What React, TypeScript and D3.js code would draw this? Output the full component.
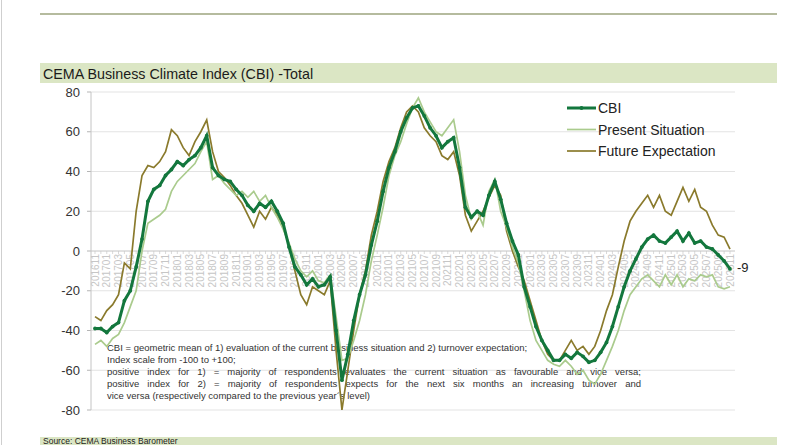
import { useEffect, useRef } from "react"
import * as d3 from "d3"

// monthly survey, Nov 2016 .. Nov 2025
const firstMonth = new Date(2016, 10, 1)
const months = d3.timeMonth.range(firstMonth, d3.timeMonth.offset(firstMonth, 109))
const monthLabels = months.map(d3.timeFormat("%Y%m"))

const cbi = [
  -39, -39, -41, -38, -36, -25, -20, -8, 6, 25, 31, 33, 38, 41, 45, 43, 46, 48, 52, 58,
  42, 38, 36, 35, 31, 28, 23, 20, 24, 22, 25, 20, 14, 2, -8, -12, -17, -14, -18, -17,
  -13, -40, -65, -52, -35, -22, -12, 3, 15, 30, 42, 50, 60, 67, 72, 73, 68, 62, 58, 52,
  55, 57, 42, 22, 17, 20, 18, 28, 35, 26, 14, 5, -2, -18, -28, -38, -45, -50, -55, -55,
  -52, -54, -51, -53, -56, -55, -51, -46, -38, -28, -18, -10, -4, 2, 6, 8, 5, 4, 7, 10,
  5, 9, 4, 5, 2, 1, -2, -5, -9,
]

const present = [
  -47, -45, -48, -44, -42, -36, -28, -20, 0, 14, 16, 18, 21, 30, 35, 38, 41, 44, 50, 55,
  36, 38, 34, 31, 28, 30, 27, 30, 25, 28, 22, 17, 11, 4, -4, -10, -13, -10, -15, -16,
  -12, -33, -55, -54, -45, -35, -22, -5, 8, 22, 38, 48, 55, 64, 72, 77, 70, 65, 60, 58,
  62, 66, 50, 28, 16, 20, 13, 30, 36, 20, 12, 2, -6, -20, -35, -45, -50, -55, -57, -58,
  -55, -58, -62, -60, -65, -67, -62, -55, -48, -40, -30, -22, -18, -14, -12, -15, -18, -12, -17, -12,
  -18, -14, -15, -12, -13, -12, -18, -19, -18,
]

const future = [
  -33, -35, -30, -27, -22, -6, -9, 20, 38, 43, 42, 45, 50, 61, 58, 52, 48, 55, 60, 66,
  50, 40, 37, 33, 28, 24, 18, 12, 20, 16, 22, 18, 12, 3, -10, -22, -27, -18, -20, -22,
  -15, -50, -80, -60, -40, -22, -10, 8, 20, 35, 45, 52, 62, 70, 73, 70, 62, 58, 55, 48,
  46, 50, 38, 18, 10, 15, 20, 27, 33, 28, 10, 0, -8, -15, -25, -35, -45, -52, -55, -55,
  -50, -45, -50, -48, -52, -48, -40, -30, -22, -8, 5, 15, 20, 24, 28, 22, 28, 20, 18, 25,
  32, 25, 31, 22, 20, 13, 8, 7, 1,
]

const yTicks = [80, 60, 40, 20, 0, -20, -40, -60, -80]

const seriesNames = ["CBI", "Present Situation", "Future Expectation"]
const seriesColors = ["#13773d", "#aacb8d", "#8a7a2c"]

const title = "CEMA Business Climate Index (CBI) -Total"
const source = "Source: CEMA Business Barometer"
const noteLines = [
  "CBI = geometric mean of 1) evaluation of the current business situation and 2) turnover expectation;",
  "Index scale from -100 to +100;",
  "positive index for 1) = majority of respondents evaluates the current situation as favourable and vice versa;",
  "positive index for 2) = majority of respondents expects for the next six months an increasing turnover and",
  "vice versa (respectively compared to the previous year\u00b4s level)",
]

const W = 800
const H = 445
const font = "'Liberation Sans', Arial, sans-serif"

export default function App() {
  const svgRef = useRef<SVGSVGElement>(null)

  const x = d3.scalePoint<string>().domain(monthLabels).range([95, 730])
  const y = d3.scaleLinear().domain([-80, 80]).range([410, 92])
  const y0 = y(0)

  const line = d3
    .line<number>()
    .x((_, i) => x(monthLabels[i]) as number)
    .y((d) => y(d))

  // justify the two long note lines by widening word gaps
  useEffect(() => {
    d3.select(svgRef.current)
      .selectAll<SVGTextElement, unknown>("text.just")
      .each(function () {
        const el = this
        el.style.wordSpacing = "0px"
        const natural = el.getComputedTextLength()
        const gaps = (el.textContent || "").split(" ").length - 1
        const target = 534
        if (gaps > 0 && natural < target) el.style.wordSpacing = `${(target - natural) / gaps}px`
      })
  }, [])

  const last = cbi.length - 1

  return (
    <svg
      ref={svgRef}
      width={W}
      height={H}
      style={{ position: "absolute", left: 0, top: 0, background: "#fff" }}
      fontFamily={font}
    >
      <line x1={1.5} x2={1.5} y1={0} y2={H} stroke="#cfcfcf" />
      <line x1={40} x2={777} y1={14} y2={14} stroke="#9ca47e" strokeWidth={1.5} />

      <rect x={40} y={63} width={737} height={20} fill="#dbe6c4" />
      <text x={43} y={78.5} fontSize={14.3} fill="#1b1b1b">
        {title}
      </text>

      <rect x={40} y={437} width={737} height={10} fill="#dbe6c4" />
      <text x={43} y={444.3} fontSize={8.5} fill="#1b1b1b">
        {source}
      </text>

      {/* grid + y axis */}
      {yTicks.map((t) => (
        <g key={t}>
          {t !== 0 && <line x1={91} x2={735} y1={y(t)} y2={y(t)} stroke="#dcdcdc" strokeWidth={0.8} />}
          <line x1={87} x2={91} y1={y(t)} y2={y(t)} stroke="#b5b5b5" />
          <text x={80} y={y(t) + 4.5} fontSize={13} textAnchor="end" fill="#333">
            {t}
          </text>
        </g>
      ))}
      <line x1={91} x2={91} y1={y(80)} y2={y(-80)} stroke="#c4c4c4" />

      {/* x axis at zero */}
      <line x1={91} x2={735} y1={y0} y2={y0} stroke="#c4c4c4" />
      {monthLabels.map((m) => (
        <line key={m} x1={x(m)} x2={x(m)} y1={y0} y2={y0 + 3} stroke="#c8c8c8" strokeWidth={0.7} />
      ))}
      {monthLabels
        .filter((_, i) => i % 2 === 0)
        .map((m) => (
          <text
            key={m}
            transform={`translate(${(x(m) as number) + 3.5},${y0 + 3}) rotate(-90)`}
            fontSize={10}
            textAnchor="end"
            fill="#c6c6c6"
          >
            {m}
          </text>
        ))}

      {/* notes */}
      {noteLines.map((t, i) => (
        <text
          key={i}
          className={i === 2 || i === 3 ? "just" : undefined}
          x={107}
          y={350.5 + i * 12}
          fontSize={9.5}
          fill="#333"
        >
          {t}
        </text>
      ))}

      {/* series, drawn back to front */}
      <path d={line(future) || ""} fill="none" stroke={seriesColors[2]} strokeWidth={1.7} />
      <path d={line(present) || ""} fill="none" stroke={seriesColors[1]} strokeWidth={1.7} />
      <path d={line(cbi) || ""} fill="none" stroke={seriesColors[0]} strokeWidth={3} />
      {cbi.map((v, i) => (
        <circle key={i} cx={x(monthLabels[i])} cy={y(v)} r={1.9} fill={seriesColors[0]} />
      ))}

      <text x={(x(monthLabels[last]) as number) + 7} y={y(cbi[last]) + 3.5} fontSize={13} fill="#222">
        {cbi[last]}
      </text>

      {/* legend */}
      {seriesNames.map((n, i) => {
        const ly = 108 + i * 21.5
        return (
          <g key={n}>
            <line x1={567} x2={596} y1={ly} y2={ly} stroke={seriesColors[i]} strokeWidth={i === 0 ? 3 : 1.7} />
            {i === 0 && <circle cx={581.5} cy={ly} r={2} fill={seriesColors[0]} />}
            <text x={598} y={ly + 5} fontSize={14} fill="#222">
              {n}
            </text>
          </g>
        )
      })}
    </svg>
  )
}
